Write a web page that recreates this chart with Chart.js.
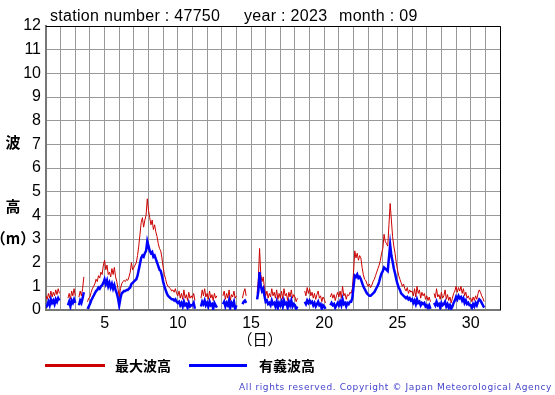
<!DOCTYPE html>
<html>
<head>
<meta charset="utf-8">
<script src="https://cdn.jsdelivr.net/npm/chart.js@4.4.0/dist/chart.umd.min.js"></script>
<style>
  html, body { margin: 0; padding: 0; background: #fff; }
  canvas { display: block; }
</style>
</head>
<body>
<canvas id="waveChart" width="555" height="395"></canvas>
<script>
// 2-hourly readings, Sept 1 00:00 onward (12 per day), null = missing
const maxWave = [
  0.6,0.45,0.7,0.5,0.8,0.55,0.75,0.6,0.85,0.65,0.9,0.7,
  null,null,null,null,null,null,0.5,0.7,0.45,0.8,0.6,0.9,
  0.6,null,null,0.55,0.8,0.6,0.9,1.4,null,null,0.35,0.5,
  0.55,0.75,0.9,1.0,1.1,1.3,1.2,1.45,1.35,1.6,1.5,1.9,
  2.1,1.7,1.9,1.5,1.6,1.4,1.75,1.5,1.8,1.4,1.2,0.9,
  0.55,0.9,1.1,1.2,1.25,1.2,1.3,1.25,1.4,1.6,2.0,1.7,
  1.8,1.9,2.0,2.3,2.7,3.2,3.7,3.9,3.5,3.8,4.0,4.7,
  4.2,3.9,3.6,3.8,3.4,3.6,3.3,3.1,2.8,2.6,2.5,2.2,
  1.8,1.5,1.3,1.1,1.0,0.95,0.9,0.8,0.85,0.75,0.9,0.7,
  0.6,0.8,0.5,0.7,0.45,0.85,0.5,0.65,0.4,0.75,0.5,0.6,
  0.5,0.7,0.4,null,null,null,null,0.5,0.85,0.6,0.9,0.55,
  0.7,0.45,0.8,0.5,0.65,0.4,0.7,0.5,0.6,null,null,null,
  null,0.6,0.8,0.45,0.7,0.5,0.85,0.4,0.65,0.55,0.8,0.5,
  0.6,null,null,null,null,0.5,0.75,0.9,0.6,null,null,null,
  null,null,null,null,null,0.7,1.3,2.6,1.5,1.2,1.4,0.9,
  0.6,0.8,0.5,0.7,0.55,0.9,0.6,0.75,0.5,0.85,0.45,0.7,
  0.5,0.8,0.45,0.9,0.6,0.7,0.4,0.75,0.55,0.85,0.5,0.65,
  0.55,0.35,0.5,null,null,null,null,null,0.8,0.6,0.95,0.7,
  0.9,0.6,0.75,0.5,0.7,0.45,0.65,0.8,0.5,0.6,0.35,0.55,
  0.45,0.3,null,null,null,0.55,0.7,0.5,0.65,0.4,0.6,0.75,
  0.55,0.8,0.5,1.0,0.6,0.7,0.45,0.65,0.6,0.75,0.7,0.9,
  1.6,2.5,2.2,2.4,2.1,2.3,2.2,1.8,1.5,1.3,1.25,1.1,
  1.0,1.1,0.95,1.05,1.2,1.3,1.45,1.6,1.75,1.9,2.1,2.4,
  2.6,3.2,2.9,2.8,2.7,3.6,4.5,3.8,3.1,2.7,2.4,2.0,
  1.7,1.45,1.3,1.15,1.0,1.1,0.9,0.8,0.95,0.7,0.85,0.75,
  0.8,0.6,0.9,0.55,1.0,0.7,0.85,0.5,0.75,0.6,0.7,0.45,
  0.6,0.4,0.55,0.35,null,null,0.7,0.5,0.9,0.55,0.65,0.45,
  0.75,0.5,0.6,0.85,0.45,0.65,0.4,0.55,0.3,0.5,0.7,0.8,
  1.0,0.75,0.95,0.8,1.0,0.7,0.9,0.6,0.75,0.5,0.6,0.45,
  0.5,0.35,0.55,0.4,0.6,0.45,0.7,0.85,0.75,0.6,0.5,0.35
];

const sigWave = [
  0.1,0.2,0.35,0.2,0.45,0.3,0.4,0.25,0.45,0.35,0.5,0.4,
  null,null,null,null,null,null,0.2,0.35,0.15,0.4,0.3,0.45,
  0.3,null,null,0.2,0.4,0.3,0.5,0.75,null,null,0.05,0.15,
  0.25,0.4,0.5,0.6,0.7,0.8,0.85,0.95,0.9,1.0,1.05,1.15,
  1.3,1.1,1.25,1.0,1.15,0.95,1.1,0.9,1.05,0.85,0.7,0.5,
  0.2,0.5,0.7,0.75,0.8,0.8,0.85,0.85,0.9,0.95,1.1,1.15,
  1.2,1.25,1.3,1.45,1.7,1.95,2.2,2.3,2.25,2.4,2.5,2.9,
  2.7,2.5,2.4,2.45,2.25,2.3,2.15,2.0,1.85,1.7,1.65,1.45,
  1.2,1.0,0.85,0.7,0.6,0.55,0.5,0.45,0.45,0.4,0.45,0.35,
  0.3,0.35,0.2,0.3,0.15,0.35,0.2,0.25,0.1,0.3,0.15,0.2,
  0.2,0.3,0.05,null,null,null,null,0.15,0.35,0.25,0.4,0.2,
  0.3,0.15,0.35,0.2,0.25,0.05,0.3,0.2,0.1,null,null,null,
  null,0.25,0.35,0.15,0.3,0.2,0.4,0.1,0.3,0.2,0.35,0.05,
  0.2,null,null,null,null,0.25,0.35,0.4,0.3,null,null,null,
  null,null,null,null,null,0.45,0.8,1.6,1.0,0.8,0.9,0.6,
  0.35,0.4,0.25,0.3,0.2,0.4,0.25,0.3,0.15,0.35,0.1,0.3,
  0.2,0.35,0.15,0.4,0.25,0.3,0.1,0.35,0.2,0.4,0.15,0.25,
  0.2,0.05,0.15,null,null,null,null,null,0.35,0.25,0.4,0.3,
  0.4,0.3,0.35,0.2,0.3,0.15,0.25,0.35,0.2,0.25,0.05,0.2,
  0.15,0.05,null,null,null,0.2,0.3,0.2,0.25,0.1,0.2,0.3,
  0.2,0.35,0.2,0.45,0.25,0.3,0.15,0.3,0.25,0.35,0.35,0.5,
  1.0,1.45,1.4,1.5,1.35,1.4,1.3,1.15,1.0,0.9,0.8,0.7,
  0.65,0.6,0.6,0.65,0.7,0.75,0.85,0.95,1.05,1.2,1.4,1.55,
  1.65,1.8,1.75,1.7,1.65,2.2,2.75,2.3,2.05,1.75,1.55,1.3,
  1.1,0.95,0.85,0.7,0.65,0.6,0.55,0.5,0.55,0.45,0.5,0.4,
  0.45,0.3,0.4,0.25,0.45,0.3,0.35,0.2,0.3,0.25,0.3,0.15,
  0.2,0.1,0.2,0.05,null,null,0.3,0.2,0.35,0.2,0.25,0.1,
  0.3,0.2,0.25,0.35,0.15,0.25,0.1,0.2,0.05,0.15,0.3,0.4,
  0.55,0.45,0.6,0.5,0.55,0.4,0.5,0.3,0.4,0.25,0.3,0.2,
  0.2,0.1,0.25,0.15,0.3,0.2,0.35,0.45,0.4,0.3,0.2,0.1
];

const readingsPerDay = 12;
const dayLabels = [5, 10, 15, 20, 25, 30];
const titleParts = ["station number : 47750", "year : 2023", "month : 09"];
const seriesNames = ["最大波高", "有義波高"];

// x = day of month (1.0 = Sept 1 00:00)
function toPoints(values) {
    return values.map((v, i) => ({ x: 1 + i / readingsPerDay, y: v }));
}

// extra text, frame and legend around the plot
const decorations = {
    id: "decorations",
    afterDraw(chart) {
        const ctx = chart.ctx;
        const area = chart.chartArea;
        ctx.save();

        // top and right frame
        ctx.strokeStyle = "#000";
        ctx.lineWidth = 1;
        ctx.beginPath();
        ctx.moveTo(area.left, area.top + 0.5);
        ctx.lineTo(area.right + 0.5, area.top + 0.5);
        ctx.lineTo(area.right + 0.5, area.bottom);
        ctx.stroke();

        // title
        ctx.fillStyle = "#000";
        ctx.font = '16px "Liberation Sans", Arial, sans-serif';
        ctx.textBaseline = "alphabetic";
        ctx.textAlign = "left";
        ctx.letterSpacing = "0.3px";
        ctx.fillText(titleParts[0], 50, 21);
        ctx.fillText(titleParts[1], 244, 21);
        ctx.fillText(titleParts[2], 339, 21);
        ctx.letterSpacing = "0px";

        // y axis title
        ctx.font = 'bold 15px "Noto Sans CJK JP"';
        ctx.textAlign = "center";
        ctx.textBaseline = "middle";
        ctx.fillText("波", 13, 142);
        ctx.fillText("高", 13, 206);
        ctx.fillText("（m）", 13, 238);

        // x axis title
        ctx.font = '15px "Noto Sans CJK JP"';
        ctx.fillText("（日）", 260, 339);

        // legend
        ctx.fillStyle = "#cc0000";
        ctx.fillRect(45, 364, 60, 3);
        ctx.fillStyle = "#0000ff";
        ctx.fillRect(189, 364, 58, 3);
        ctx.fillStyle = "#000";
        ctx.font = 'bold 14px "Noto Sans CJK JP"';
        ctx.textAlign = "left";
        ctx.fillText(seriesNames[0], 115, 366);
        ctx.fillText(seriesNames[1], 259, 366);

        // copyright
        ctx.fillStyle = "#4444cc";
        ctx.font = '9px "DejaVu Sans"';
        ctx.letterSpacing = "0.6px";
        ctx.textAlign = "right";
        ctx.fillText("All rights reserved. Copyright © Japan Meteorological Agency", 552, 388);
        ctx.restore();
    }
};

const ctx = document.getElementById("waveChart").getContext("2d");

new Chart(ctx, {
    type: "line",
    data: {
        datasets: [
            {
                label: seriesNames[1],
                data: toPoints(sigWave),
                borderColor: "#0000ff",
                borderWidth: 2.5,
                pointRadius: 0,
                tension: 0,
                spanGaps: false
            },
            {
                label: seriesNames[0],
                data: toPoints(maxWave),
                borderColor: "#cc0000",
                borderWidth: 1,
                pointRadius: 0,
                tension: 0,
                spanGaps: false
            }
        ]
    },
    options: {
        responsive: false,
        animation: false,
        layout: { padding: { top: 26, right: 55, bottom: 55, left: 0 } },
        plugins: {
            legend: { display: false },
            title: { display: false },
            tooltip: { enabled: false }
        },
        scales: {
            x: {
                type: "linear",
                min: 1,
                max: 32,
                afterFit(scale) { scale.height = 30; },
                grid: { color: "#999", lineWidth: 1, drawTicks: false },
                border: { color: "#777", width: 2 },
                ticks: {
                    stepSize: 1,
                    autoSkip: false,
                    maxRotation: 0,
                    padding: 4,
                    color: "#000",
                    font: { family: "Liberation Sans", size: 16 },
                    callback: v => dayLabels.includes(v) ? String(v) : ""
                }
            },
            y: {
                min: 0,
                max: 12,
                afterFit(scale) { scale.width = 46; },
                grid: { color: "#999", lineWidth: 1, drawTicks: false },
                border: { color: "#777", width: 2 },
                ticks: {
                    stepSize: 1,
                    padding: 5,
                    color: "#000",
                    font: { family: "Liberation Sans", size: 16 }
                }
            }
        }
    },
    plugins: [decorations]
});
</script>
</body>
</html>
